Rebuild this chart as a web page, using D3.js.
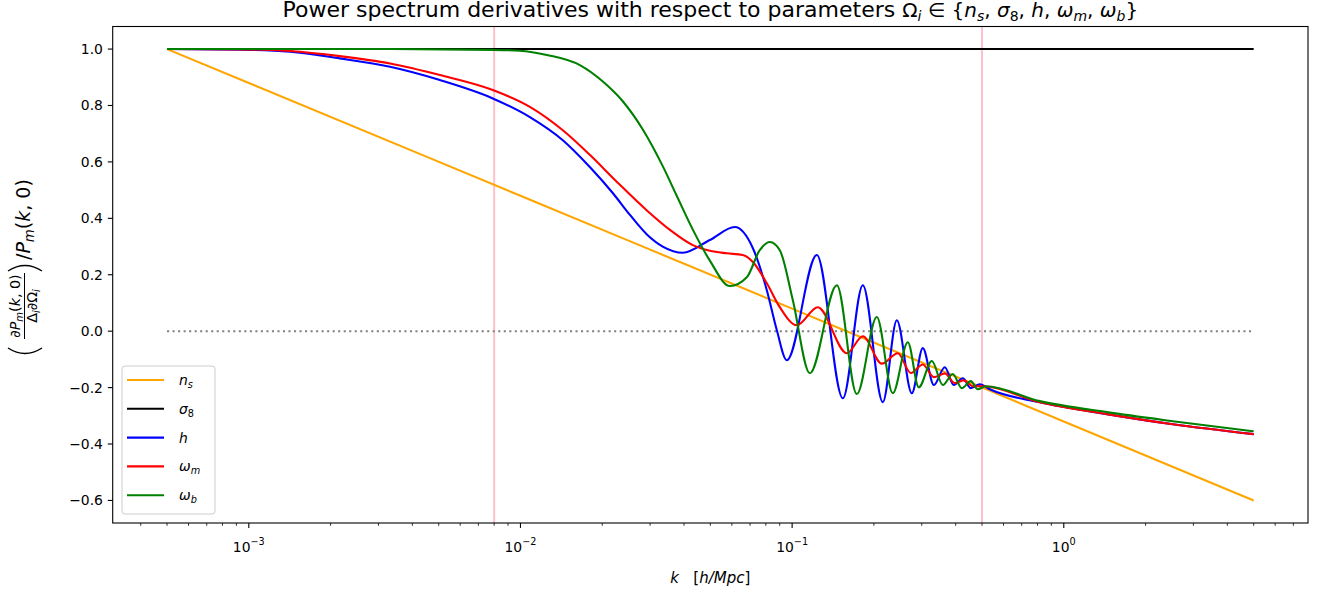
<!DOCTYPE html>
<html>
<head>
<meta charset="utf-8">
<script src="https://cdn.jsdelivr.net/npm/d3@7"></script>
<style>
  body { margin: 0; background: #fff; }
  svg text { font-family: "DejaVu Sans", sans-serif; fill: #000; white-space: pre; }
</style>
</head>
<body>
<div id="chart"></div>
<script>
// 1: DATA
const kNs = [0.0005, 0.001, 0.01, 0.1, 1, 5];
const nsVal = [1.0, 0.88, 0.48, 0.08, -0.32, -0.6];

const kS8 = [0.0005, 5];
const s8Val = [1.0, 1.0];

const kH = [0.0005, 0.000927, 0.00142, 0.00216, 0.00331, 0.00505, 0.00791, 0.01083, 0.01432, 0.0180,
    0.0219, 0.0253, 0.0292, 0.0334, 0.0396, 0.0498, 0.0615, 0.0717, 0.0807, 0.0878,
    0.0956, 0.1233, 0.1537, 0.1821, 0.2157, 0.2429, 0.2758, 0.3027, 0.3324, 0.3648,
    0.3936, 0.4248, 0.4547, 0.4907, 0.5341, 0.816, 1.44, 2.52, 5.0];
const hVal = [1.000, 0.998, 0.991, 0.967, 0.937, 0.890, 0.825, 0.759, 0.677, 0.582,
    0.489, 0.412, 0.343, 0.300, 0.278, 0.323, 0.369, 0.294, 0.145, 0.004,
    -0.103, 0.270, -0.238, 0.163, -0.252, 0.039, -0.220, -0.060, -0.191, -0.128,
    -0.191, -0.167, -0.202, -0.188, -0.206, -0.252, -0.294, -0.330, -0.365];

const kWm = [0.0005, 0.000927, 0.00142, 0.00216, 0.00331, 0.00505, 0.00791, 0.01083, 0.01432, 0.0180,
    0.0226, 0.0292, 0.0355, 0.0431, 0.0498, 0.0575, 0.0658, 0.0717, 0.0807,
    0.0901, 0.1041, 0.1243, 0.1590, 0.1821, 0.2138, 0.2449, 0.2735, 0.3027, 0.3324,
    0.3648, 0.3969, 0.4284, 0.4625, 0.499, 0.816, 1.44, 2.52, 5.0];
const wmVal = [1.000, 0.999, 0.993, 0.975, 0.949, 0.908, 0.855, 0.795, 0.712, 0.625,
    0.530, 0.428, 0.359, 0.305, 0.285, 0.276, 0.270, 0.245, 0.170,
    0.085, 0.021, 0.085, -0.078, -0.018, -0.115, -0.078, -0.148, -0.118, -0.163,
    -0.150, -0.184, -0.175, -0.195, -0.195, -0.252, -0.294, -0.330, -0.365];

const kWb = [0.0005, 0.00142, 0.00331, 0.00791, 0.00995, 0.01251, 0.01654, 0.0201, 0.0238, 0.0282,
    0.0334, 0.0376, 0.0431, 0.0498, 0.0590, 0.0681, 0.0760, 0.0828, 0.0901, 0.1006,
    0.1162, 0.1461, 0.1730, 0.2050, 0.2347, 0.2666, 0.2926, 0.3268, 0.3587, 0.3903,
    0.4212, 0.4547, 0.4825, 0.5163, 0.816, 1.44, 2.52, 5.0];
const wbVal = [1.000, 1.000, 1.000, 0.997, 0.994, 0.979, 0.943, 0.885, 0.815, 0.715,
    0.585, 0.480, 0.360, 0.250, 0.160, 0.191, 0.287, 0.316, 0.287, 0.110,
    -0.149, 0.163, -0.223, 0.050, -0.220, -0.039, -0.199, -0.106, -0.191, -0.152,
    -0.202, -0.177, -0.206, -0.195, -0.248, -0.287, -0.319, -0.355];

const kMarks = [0.008, 0.5];          // pink vertical lines
const kRange = [0.0005, 5];           // dotted zero line extent
const xMajor = [1e-3, 1e-2, 1e-1, 1];
const xMajorExp = ["\u22123", "\u22122", "\u22121", "0"];
const yTicks = [-0.6, -0.4, -0.2, 0.0, 0.2, 0.4, 0.6, 0.8, 1.0];

const series = [
    { label: [["n", "i"], ["s", "si"]], k: kNs, v: nsVal, color: "orange" },
    { label: [["\u03c3", "i"], ["8", "s"]], k: kS8, v: s8Val, color: "black" },
    { label: [["h", "i"]], k: kH, v: hVal, color: "blue" },
    { label: [["\u03c9", "i"], ["m", "si"]], k: kWm, v: wmVal, color: "red" },
    { label: [["\u03c9", "i"], ["b", "si"]], k: kWb, v: wbVal, color: "green" }
];

// 2: SIZES
const W = 1318, H = 595;
const margin = { top: 26.5, right: 10, bottom: 72, left: 112.7 };
const width = W - margin.left - margin.right;
const height = H - margin.top - margin.bottom;

const svgRoot = d3.select("#chart").append("svg")
    .attr("width", W)
    .attr("height", H);
const svg = svgRoot.append("g")
    .attr("transform", `translate(${margin.left},${margin.top})`);

// small mathtext helper: kinds n=normal, i=italic, s=subscript, si=italic subscript
function addMath(text, parts, size) {
    let off = 0;
    parts.forEach(([str, kind, fs]) => {
        const sz = fs || size;
        const sub = kind === "s" || kind === "si";
        const target = sub ? sz * 0.22 : 0;
        const ts = text.append("tspan").attr("dy", target - off).text(str);
        off = target;
        ts.attr("font-size", sub ? sz * 0.7 : sz);
        if (kind === "i" || kind === "si") ts.attr("font-style", "italic");
    });
    return text;
}

// 3: SCALES
const xScale = d3.scaleLog()
    .domain([Math.pow(10, -3.50103), Math.pow(10, 0.89897)])
    .range([0, width]);
const yScale = d3.scaleLinear()
    .domain([-0.68, 1.08])
    .range([height, 0]);

// 4: REFERENCE LINES
svg.selectAll(".vmark")
    .data(kMarks)
    .enter()
    .append("line")
    .attr("x1", d => xScale(d)).attr("x2", d => xScale(d))
    .attr("y1", 0).attr("y2", height)
    .style("stroke", "pink")
    .style("stroke-width", 2);

svg.append("line")
    .attr("x1", xScale(kRange[0])).attr("x2", xScale(kRange[1]))
    .attr("y1", yScale(0)).attr("y2", yScale(0))
    .style("stroke", "gray")
    .style("stroke-width", 2.08)
    .style("stroke-dasharray", "2.08 3.44");

// 5: CURVES
const line = d3.line()
    .x(d => xScale(d[0]))
    .y(d => yScale(d[1]))
    .curve(d3.curveMonotoneX);

svg.selectAll(".curve")
    .data(series)
    .enter()
    .append("path")
    .attr("d", d => line(d3.zip(d.k, d.v)))
    .style("fill", "none")
    .style("stroke", d => d.color)
    .style("stroke-width", 2.08)
    .style("stroke-linejoin", "round");

// 6: AXES
const minor = [];
for (let e = -4; e <= 0; e++) {
    for (let m = 2; m <= 9; m++) {
        const v = m * Math.pow(10, e);
        if (v > xScale.domain()[0] && v < xScale.domain()[1]) minor.push(v);
    }
}
const xAxis = svg.append("g").attr("transform", `translate(0,${height})`);
xAxis.selectAll(".minor")
    .data(minor)
    .enter()
    .append("line")
    .attr("x1", d => xScale(d)).attr("x2", d => xScale(d))
    .attr("y1", 0).attr("y2", 2.8)
    .style("stroke", "#000").style("stroke-width", 0.8);
xAxis.selectAll(".major")
    .data(xMajor)
    .enter()
    .append("line")
    .attr("x1", d => xScale(d)).attr("x2", d => xScale(d))
    .attr("y1", 0).attr("y2", 4.9)
    .style("stroke", "#000").style("stroke-width", 1.1);
xAxis.selectAll(".xlab")
    .data(xMajor)
    .enter()
    .append("text")
    .attr("x", d => xScale(d))
    .attr("y", 29)
    .attr("text-anchor", "middle")
    .attr("font-size", 13.9)
    .each(function (d, i) {
        const t = d3.select(this);
        t.append("tspan").text("10");
        t.append("tspan").attr("dy", -7).attr("font-size", 9.7).text(xMajorExp[i]);
    });

const yAxis = svg.append("g");
yAxis.selectAll(".ytick")
    .data(yTicks)
    .enter()
    .append("line")
    .attr("x1", -4.9).attr("x2", 0)
    .attr("y1", d => yScale(d)).attr("y2", d => yScale(d))
    .style("stroke", "#000").style("stroke-width", 1.1);
yAxis.selectAll(".ylab")
    .data(yTicks)
    .enter()
    .append("text")
    .attr("x", -9.8)
    .attr("y", d => yScale(d))
    .attr("dy", "0.36em")
    .attr("text-anchor", "end")
    .attr("font-size", 13.9)
    .text(d => d3.format(".1f")(d));

svg.append("rect")
    .attr("width", width).attr("height", height)
    .style("fill", "none").style("stroke", "#000").style("stroke-width", 1.1);

// 7: TITLE AND AXIS LABELS
const title = svgRoot.append("text")
    .attr("x", margin.left + width / 2)
    .attr("y", 17)
    .attr("text-anchor", "middle")
    .attr("font-size", 20);
addMath(title, [["Power spectrum derivatives with respect to parameters ", "n", 22], ["\u03a9", "n"], ["i", "si"],
    [" \u2208 {", "n"], ["n", "i"], ["s", "si"], [", ", "n"], ["\u03c3", "i"], ["8", "s"], [", ", "n"],
    ["h", "i"], [", ", "n"], ["\u03c9", "i"], ["m", "si"], [", ", "n"], ["\u03c9", "i"], ["b", "si"], ["}", "n"]], 20);

const xl = svgRoot.append("text")
    .attr("x", margin.left + width / 2)
    .attr("y", 583)
    .attr("text-anchor", "middle")
    .attr("font-size", 15);
addMath(xl, [["k", "i"], ["   [", "n"], ["h/Mpc", "i"], ["]", "n"]], 15);

// y label: (dP / D dO) / P, rotated
const yl = svgRoot.append("g").attr("transform", "translate(0,275) rotate(-90)");
addMath(yl.append("text").attr("x", -31).attr("y", 20).attr("text-anchor", "middle"),
    [["\u2202", "n"], ["P", "i"], ["m", "si"], ["(", "n"], ["k", "i"], [", 0)", "n"]], 14.3);
yl.append("line")
    .attr("x1", -64).attr("x2", 2).attr("y1", 24.5).attr("y2", 24.5)
    .style("stroke", "#000").style("stroke-width", 1);
addMath(yl.append("text").attr("x", -31).attr("y", 37).attr("text-anchor", "middle"),
    [["\u0394", "n"], ["i", "si"], ["\u2202\u03a9", "n"], ["i", "si"]], 14.3);
yl.append("path")
    .attr("d", "M-73,8 Q-84,25 -73,42")
    .style("fill", "none").style("stroke", "#000").style("stroke-width", 1.4);
yl.append("path")
    .attr("d", "M4,8 Q15,25 4,42")
    .style("fill", "none").style("stroke", "#000").style("stroke-width", 1.4);
addMath(yl.append("text").attr("x", 15).attr("y", 30),
    [["/", "n"], ["P", "i"], ["m", "si"], ["(", "n"], ["k", "i"], [", 0)", "n"]], 19);

// 8: LEGEND
const lg = svgRoot.append("g");
lg.append("rect")
    .attr("x", 122).attr("y", 366).attr("width", 93).attr("height", 148).attr("rx", 3)
    .style("fill", "#fff").style("fill-opacity", 0.8)
    .style("stroke", "#ccc");
const entry = lg.selectAll(".entry")
    .data(series)
    .enter()
    .append("g")
    .attr("transform", (d, i) => `translate(0,${380 + i * 28.8})`);
entry.append("line")
    .attr("x1", 127).attr("x2", 164)
    .style("stroke", d => d.color).style("stroke-width", 2.08);
entry.append("text")
    .attr("x", 179).attr("y", 5)
    .each(function (d) { addMath(d3.select(this), d.label, 13.9); });
</script>
</body>
</html>
